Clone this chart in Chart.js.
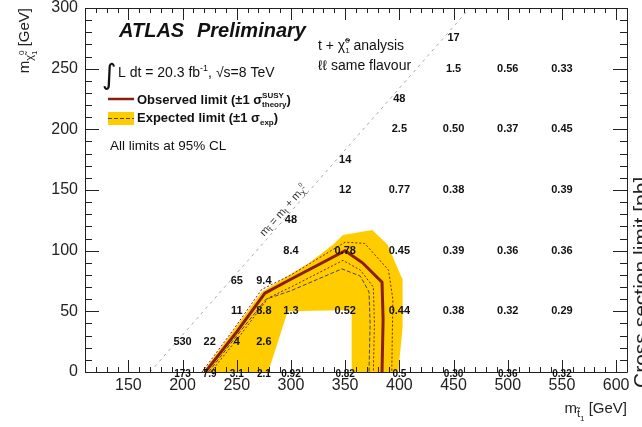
<!DOCTYPE html>
<html>
<head>
<meta charset="utf-8">
<script src="https://cdn.jsdelivr.net/npm/chart.js@4.4.0/dist/chart.umd.min.js"></script>
<style>
  html, body { margin: 0; padding: 0; background: #fff; }
  #wrap { width: 642px; height: 427px; }
</style>
</head>
<body>
<div id="wrap"><canvas id="limitChart" width="642" height="427"></canvas></div>
<script>
// axis tick labels
const xTicks = [150, 200, 250, 300, 350, 400, 450, 500, 550, 600];
const yTicks = [0, 50, 100, 150, 200, 250, 300];

// signal grid: stop mass, neutralino mass, cross-section limit [pb]
const gridStop = [200, 225, 250, 275, 250, 275, 300, 250, 275, 300, 300,
  350, 350, 350, 350, 400, 400, 400, 400, 400,
  450, 450, 450, 450, 450, 450, 500, 500, 500, 500,
  550, 550, 550, 550, 550];
const gridLsp = [25, 25, 25, 25, 50, 50, 50, 75, 75, 100, 125,
  50, 100, 150, 175, 50, 100, 150, 200, 225,
  50, 100, 150, 200, 250, 275, 50, 100, 200, 250,
  50, 100, 150, 200, 250];
const gridLimit = ['530', '22', '4', '2.6', '11', '8.8', '1.3', '65', '9.4', '8.4', '48',
  '0.52', '0.78', '12', '14', '0.44', '0.45', '0.77', '2.5', '48',
  '0.38', '0.39', '0.38', '0.50', '1.5', '17', '0.32', '0.36', '0.37', '0.56',
  '0.29', '0.36', '0.39', '0.45', '0.33'];

// points with a massless-ish neutralino, sitting on the x axis
const edgeStop = [200, 225, 250, 275, 300, 350, 400, 450, 500, 550];
const edgeLsp = [1, 1, 1, 1, 1, 1, 1, 1, 1, 1];
const edgeLimit = ['173', '7.9', '3.1', '2.1', '0.92', '0.82', '0.5', '0.30', '0.36', '0.32'];

// observed limit contour
const obsStop = [221, 250, 276, 299, 350, 366, 384, 385, 384];
const obsLsp = [0, 33, 65, 76, 100, 90, 74, 43, 0];
// observed +/- 1 sigma theory
const obsUpStop = [218, 247, 273, 300, 350, 368, 390, 394, 393];
const obsUpLsp = [0, 35, 68, 80, 107, 106, 84, 60, 0];
const obsDownStop = [226, 253, 279, 300, 348, 364, 376, 377, 376];
const obsDownLsp = [0, 30, 61, 70, 92, 84, 70, 40, 0];
// expected limit
const expStop = [224, 251, 277, 300, 347, 364, 372, 373, 372];
const expLsp = [0, 31, 60, 67, 85, 79, 66, 40, 0];
// expected +/- 1 sigma band (outer edge, then inner edge back)
const bandStop = [219, 246, 273, 317, 339, 348, 375, 389, 403, 403, 399, 356, 356, 297, 279, 219];
const bandLsp = [0, 33, 66, 90, 105, 113, 117, 105, 76, 37, 0, 0, 51, 50, 0, 0];

// kinematic limit m_stop = m_top + m_chi
const diagStop = [170, 465];
const diagLsp = [0, 300];

const FONT = '"Liberation Sans", Arial, Helvetica, sans-serif';

function pts(xs, ys) {
  return xs.map((x, i) => ({ x: x, y: ys[i] }));
}

function fnt(s) {
  return (s.i ? 'italic ' : '') + (s.b ? 'bold ' : '') + s.s + 'px ' + (s.f || FONT);
}

// draws a run of text pieces with sub/superscripts
function richText(ctx, x, y, segs, align) {
  let w = 0;
  for (const s of segs) {
    ctx.font = fnt(s);
    if (s.adv !== false) w += ctx.measureText(s.t).width;
  }
  let cx = x;
  if (align === 'right') cx = x - w;
  if (align === 'center') cx = x - w / 2;
  ctx.textAlign = 'left';
  for (const s of segs) {
    ctx.font = fnt(s);
    ctx.fillText(s.t, cx, y + (s.dy || 0));
    if (s.adv !== false) cx += ctx.measureText(s.t).width;
  }
}

// frame with inward ticks on all four sides, plus the axis titles
const framePlugin = {
  id: 'atlasFrame',
  afterDatasetsDraw(chart) {
    const ctx = chart.ctx;
    const a = chart.chartArea;
    const x = chart.scales.x;
    const y = chart.scales.y;
    ctx.save();
    ctx.globalAlpha = 1;
    ctx.setLineDash([]);
    ctx.strokeStyle = '#222';
    ctx.lineWidth = 1;
    ctx.beginPath();
    ctx.rect(Math.round(a.left) + 0.5, Math.round(a.top) + 0.5,
      Math.round(a.right - a.left), Math.round(a.bottom - a.top));
    for (let v = 110; v <= 610; v += 10) {
      const px = Math.round(x.getPixelForValue(v)) + 0.5;
      const len = v % 50 === 0 ? 12 : 5;
      ctx.moveTo(px, a.bottom);
      ctx.lineTo(px, a.bottom - len);
      ctx.moveTo(px, a.top);
      ctx.lineTo(px, a.top + len);
    }
    for (let v = 0; v <= 300; v += 10) {
      const py = Math.round(y.getPixelForValue(v)) + 0.5;
      const len = v % 50 === 0 ? 14 : 7;
      ctx.moveTo(a.left, py);
      ctx.lineTo(a.left + len, py);
      ctx.moveTo(a.right, py);
      ctx.lineTo(a.right - len, py);
    }
    ctx.stroke();

    ctx.fillStyle = '#222';
    ctx.textBaseline = 'alphabetic';
    // y axis title
    ctx.save();
    ctx.translate(29, 8);
    ctx.rotate(-Math.PI / 2);
    richText(ctx, 0, 0, [
      { t: 'm', s: 15 },
      { t: '\u03C7\u0303', s: 11, dy: 4 },
      { t: '0', s: 8, dy: -5, adv: false },
      { t: '1', s: 8, dy: 8 },
      { t: ' [GeV]', s: 15 }
    ], 'right');
    ctx.restore();
    // x axis title
    richText(ctx, 627, 413, [
      { t: 'm', s: 15 },
      { t: 't\u0303', s: 11, dy: 4 },
      { t: '1', s: 8, dy: 8 },
      { t: ' [GeV]', s: 15 }
    ], 'right');
    // z axis title, cut by the page edge
    ctx.save();
    ctx.translate(648, 388);
    ctx.rotate(-Math.PI / 2);
    ctx.font = '21px ' + FONT;
    ctx.textAlign = 'left';
    ctx.fillText('Cross section limit [pb]', 0, 0);
    ctx.restore();
    ctx.restore();
  }
};

const textPlugin = {
  id: 'gridText',
  afterDatasetsDraw(chart) {
    const ctx = chart.ctx;
    const x = chart.scales.x;
    const y = chart.scales.y;
    ctx.save();
    ctx.fillStyle = '#111';
    ctx.textAlign = 'center';
    ctx.textBaseline = 'middle';
    ctx.font = 'bold 11px ' + FONT;
    gridLimit.forEach((lab, i) => {
      ctx.fillText(lab, x.getPixelForValue(gridStop[i]), y.getPixelForValue(gridLsp[i]));
    });
    ctx.font = 'bold 10px ' + FONT;
    edgeLimit.forEach((lab, i) => {
      ctx.fillText(lab, x.getPixelForValue(edgeStop[i]), y.getPixelForValue(edgeLsp[i]) + 3);
    });

    // label along the kinematic line
    const p1x = x.getPixelForValue(diagStop[0]);
    const p1y = y.getPixelForValue(diagLsp[0]);
    const p2x = x.getPixelForValue(diagStop[1]);
    const p2y = y.getPixelForValue(diagLsp[1]);
    ctx.save();
    ctx.translate(x.getPixelForValue(293), y.getPixelForValue(133));
    ctx.rotate(Math.atan2(p2y - p1y, p2x - p1x));
    ctx.fillStyle = '#333';
    ctx.textBaseline = 'middle';
    richText(ctx, 0, 0, [
      { t: 'm', s: 11 }, { t: 't\u0303', s: 8, dy: 3 },
      { t: ' = m', s: 11 }, { t: 't', s: 8, dy: 3 },
      { t: ' + m', s: 11 }, { t: '\u03C7\u0303', s: 8, dy: 3 },
      { t: '0', s: 6, dy: -4 }
    ], 'center');
    ctx.restore();

    ctx.textBaseline = 'alphabetic';
    ctx.fillStyle = '#111';
    ctx.textAlign = 'left';
    ctx.font = 'italic bold 20px ' + FONT;
    ctx.fillText('ATLAS', 119, 37);
    ctx.fillText('Preliminary', 197, 37);

    ctx.font = '28px "DejaVu Sans", sans-serif';
    ctx.fillText('\u222B', 102, 84);
    richText(ctx, 118, 77, [
      { t: 'L dt = 20.3 fb', s: 14 },
      { t: '-1', s: 9, dy: -6 },
      { t: ', \u221As=8 TeV', s: 14 }
    ], 'left');

    // legend
    ctx.strokeStyle = '#8c1c0c';
    ctx.lineWidth = 2.5;
    ctx.beginPath();
    ctx.moveTo(108, 99);
    ctx.lineTo(134, 99);
    ctx.stroke();
    richText(ctx, 137, 104, [
      { t: 'Observed limit (\u00B11 \u03C3', s: 13, b: true },
      { t: 'SUSY', s: 8, b: true, dy: -6, adv: false },
      { t: 'theory', s: 8, b: true, dy: 3 },
      { t: ')', s: 13, b: true }
    ], 'left');
    ctx.fillStyle = '#ffcc00';
    ctx.fillRect(108, 112, 26, 13);
    ctx.strokeStyle = '#444466';
    ctx.lineWidth = 1;
    ctx.setLineDash([4, 2]);
    ctx.beginPath();
    ctx.moveTo(108, 118.5);
    ctx.lineTo(134, 118.5);
    ctx.stroke();
    ctx.setLineDash([]);
    ctx.fillStyle = '#111';
    richText(ctx, 137, 122, [
      { t: 'Expected limit (\u00B11 \u03C3', s: 13, b: true },
      { t: 'exp', s: 8, b: true, dy: 3 },
      { t: ')', s: 13, b: true }
    ], 'left');

    ctx.font = '13.5px ' + FONT;
    ctx.fillText('All limits at 95% CL', 110, 150);

    richText(ctx, 318, 50, [
      { t: 't + ', s: 14 },
      { t: '\u03C7\u0303', s: 14 },
      { t: '0', s: 8, dy: -7, adv: false },
      { t: '1', s: 8, dy: 3 },
      { t: ' analysis', s: 14 }
    ], 'left');
    ctx.font = '14px ' + FONT;
    ctx.fillText('\u2113\u2113 same flavour', 318, 70);
    ctx.restore();
  }
};

const ctx = document.getElementById('limitChart').getContext('2d');

// eslint-disable-next-line no-undef
const chart = new Chart(ctx, {
  type: 'scatter',
  data: {
    datasets: [
      {
        label: 'Observed limit',
        data: pts(obsStop, obsLsp),
        showLine: true,
        borderColor: '#8c1c0c',
        borderWidth: 3,
        pointRadius: 0,
        order: 1
      },
      {
        label: 'Observed +1 sigma',
        data: pts(obsUpStop, obsUpLsp),
        showLine: true,
        borderColor: '#8c1c0c',
        borderWidth: 1,
        borderDash: [2, 2],
        pointRadius: 0,
        order: 2
      },
      {
        label: 'Observed -1 sigma',
        data: pts(obsDownStop, obsDownLsp),
        showLine: true,
        borderColor: '#8c1c0c',
        borderWidth: 1,
        borderDash: [2, 2],
        pointRadius: 0,
        order: 2
      },
      {
        label: 'Expected limit',
        data: pts(expStop, expLsp),
        showLine: true,
        borderColor: '#444466',
        borderWidth: 1,
        borderDash: [4, 2],
        pointRadius: 0,
        order: 3
      },
      {
        label: 'Kinematic limit',
        data: pts(diagStop, diagLsp),
        showLine: true,
        borderColor: '#aaaaaa',
        borderWidth: 1,
        borderDash: [3, 4],
        pointRadius: 0,
        order: 4
      },
      {
        label: 'Expected +/-1 sigma',
        data: pts(bandStop, bandLsp),
        showLine: true,
        borderWidth: 0,
        borderColor: 'rgba(0,0,0,0)',
        backgroundColor: '#ffcc00',
        fill: 'shape',
        pointRadius: 0,
        order: 5
      }
    ]
  },
  options: {
    responsive: false,
    animation: false,
    devicePixelRatio: 1,
    layout: { padding: { top: 8, right: 15, left: 0, bottom: 0 } },
    plugins: {
      legend: { display: false },
      tooltip: { enabled: false }
    },
    scales: {
      x: {
        type: 'linear',
        min: 110,
        max: 610,
        grid: { display: false, drawTicks: false },
        border: { display: false },
        ticks: {
          autoSkip: false,
          maxRotation: 0,
          padding: 4,
          color: '#222',
          font: { family: FONT, size: 16 }
        },
        afterBuildTicks: (scale) => { scale.ticks = xTicks.map(v => ({ value: v })); },
        afterFit: (scale) => {
          scale.height = 55;
          scale.paddingLeft = 0;
          scale.paddingRight = 0;
        }
      },
      y: {
        type: 'linear',
        min: 0,
        max: 300,
        grid: { display: false, drawTicks: false },
        border: { display: false },
        ticks: {
          autoSkip: false,
          padding: 7,
          color: '#222',
          font: { family: FONT, size: 16 }
        },
        afterBuildTicks: (scale) => { scale.ticks = yTicks.map(v => ({ value: v })); },
        afterFit: (scale) => {
          scale.width = 85;
          scale.paddingTop = 0;
          scale.paddingBottom = 0;
        }
      }
    }
  },
  plugins: [framePlugin, textPlugin]
});
</script>
</body>
</html>
